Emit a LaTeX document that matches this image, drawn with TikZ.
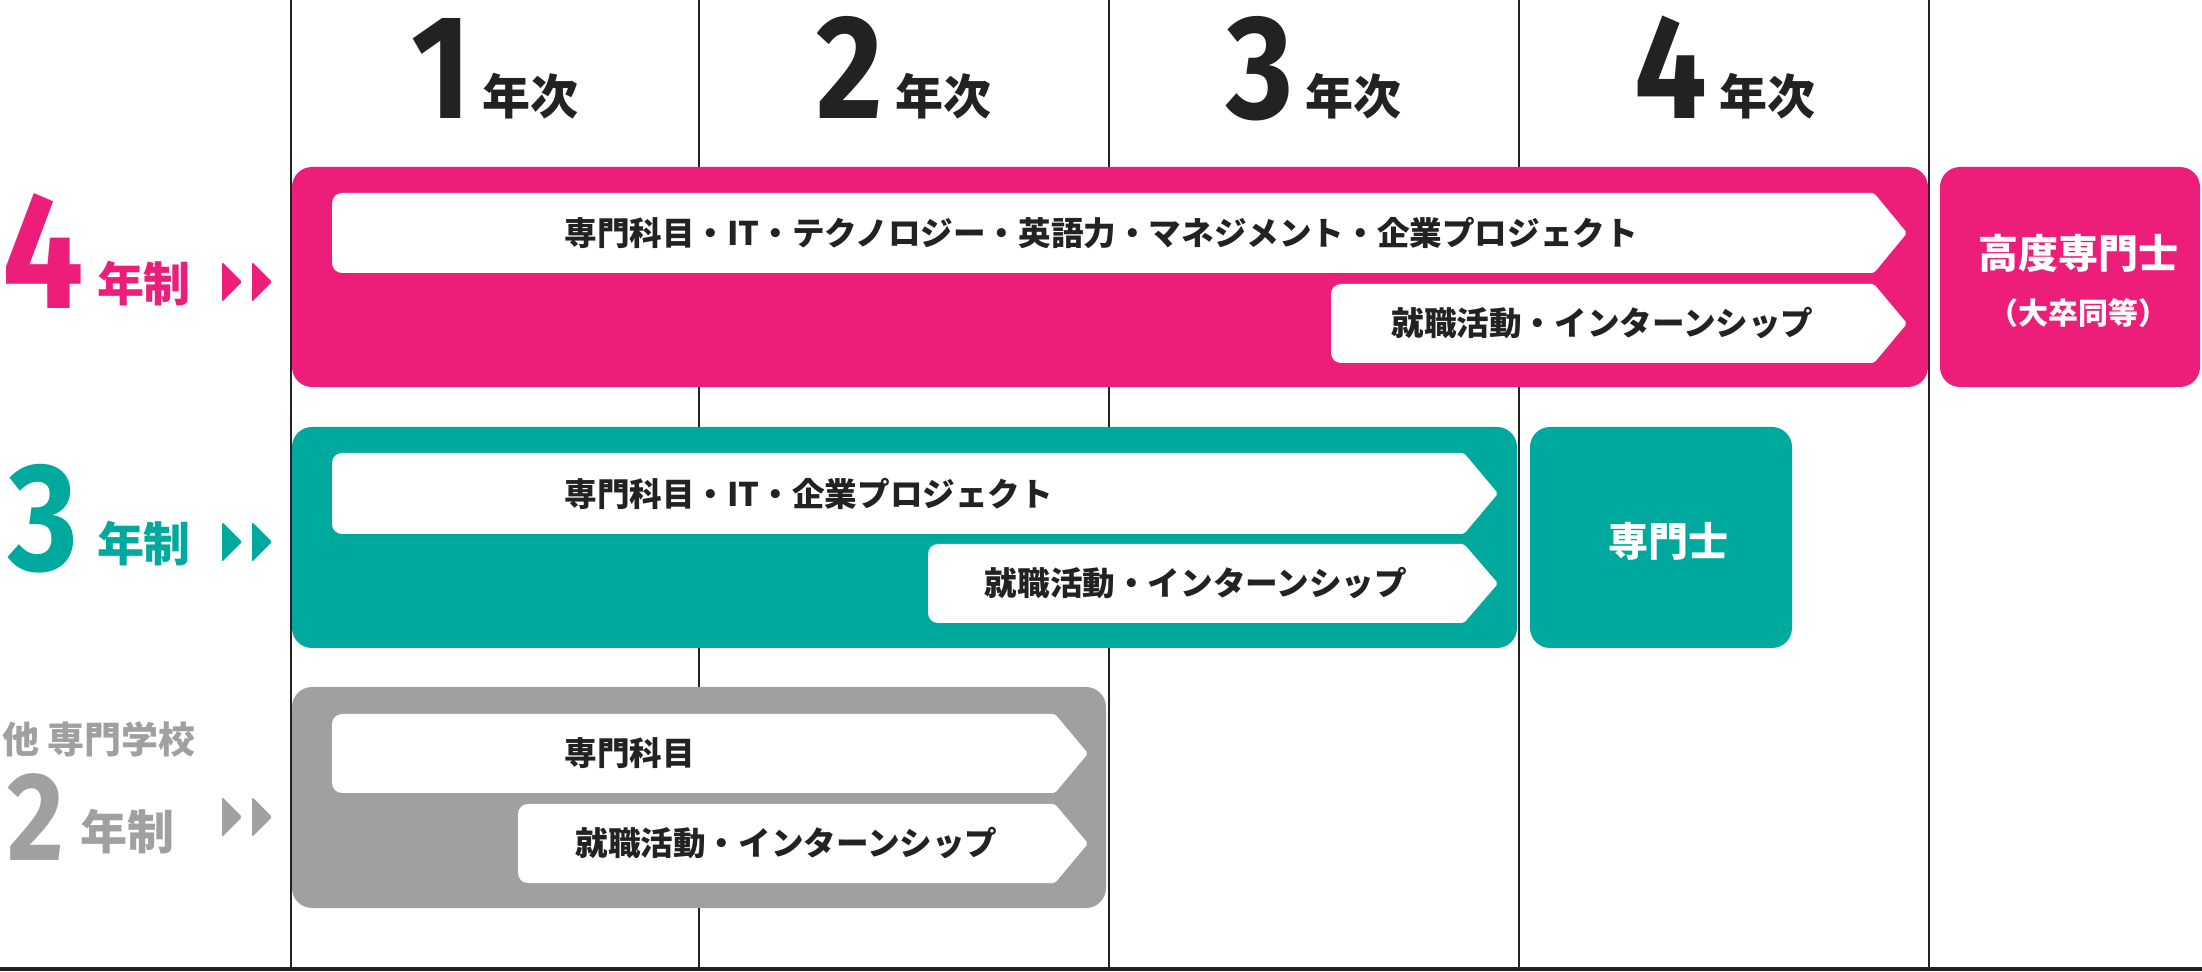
\documentclass[tikz,border=0pt]{standalone}
\usepackage{fontspec}
\setmainfont{Noto Sans CJK JP}
\newfontfamily\jp{Noto Sans CJK JP}
\newfontfamily\digitfont{Fira Sans}[FakeStretch=0.87]
\definecolor{pinkc}{HTML}{ED1E79}
\definecolor{tealc}{HTML}{00A99D}
\definecolor{grayc}{HTML}{A0A0A0}
\definecolor{inkc}{HTML}{222222}
\newcommand\warrow[6]{%
  \fill[white] ({#6},{(#3+#4)/2}) [rounded corners=1pt] -- ({#5},{#3}) [rounded corners=5pt] -- ({#2},{#3}) -- ({#2},{#4}) [rounded corners=1pt] -- ({#5},{#4}) -- cycle;
  \coordinate (#1) at ({(#2+#5)/2},{(#3+#4)/2});}
\newcommand\tri[3]{%
  \fill[#3, rounded corners=1pt] ({#1},{#2-20}) -- ({#1+20},{#2}) -- ({#1},{#2+20}) -- cycle;}
\newcommand\hdr[1]{{\digitfont\bfseries\fontsize{74pt}{74pt}\selectfont #1}\hspace{6pt}\raisebox{2pt}{\jp\bfseries\fontsize{24pt}{24pt}\selectfont 年次}}
\begin{document}
\begin{tikzpicture}[x=0.5pt,y=-0.5pt,
  box/.style={rounded corners=10pt},
  lbl/.style={inner sep=0pt, text=inkc, font={\jp\bfseries\fontsize{16.3pt}{19pt}\selectfont}},
  cert/.style={inner sep=0pt, text=white, font={\jp\bfseries\fontsize{20pt}{22pt}\selectfont}},
  big/.style={inner sep=0pt, anchor=base},
  nen/.style={inner sep=0pt, font={\jp\bfseries\fontsize{23.5pt}{24pt}\selectfont}},
  head/.style={inner sep=0pt, anchor=base, text=inkc}]
\useasboundingbox (0,0) rectangle (2202,972);
% grid lines
\foreach \x in {290.5,699,1108.5,1519,1929} \draw[inkc,line width=1pt] (\x,0) -- (\x,968);
\draw[inkc,line width=2pt] (0,969) -- (2202,969);
% header
\node[head] (y1) at (495,119) {\hdr{1}};
\node[head] (y2) at (904,119) {\hdr{2}};
\node[head] (y3) at (1314,119) {\hdr{3}};
\node[head] (y4) at (1725,119) {\hdr{4}};
% 4-year row
\fill[pinkc, box] (292,167) rectangle (1928,387);
\fill[pinkc, box] (1940,167) rectangle (2200,387);
\warrow{p1}{332}{193}{273}{1874}{1907}
\warrow{p2}{1331}{284}{363}{1874}{1907}
\node[lbl, anchor=west] (p1t) at (564,233) {専門科目・IT・テクノロジー・英語力・マネジメント・企業プロジェクト};
\node[lbl] (p2t) at (p2) {就職活動・インターンシップ};
\node[cert] (c4a) at (2078,253.5) {高度専門士};
\node[cert, font={\jp\bfseries\fontsize{15pt}{17pt}\selectfont}] (c4b) at (2078,313.5) {（大卒同等）};
\node[big, text=pinkc, font={\digitfont\bfseries\fontsize{83pt}{83pt}\selectfont}] (n4) at (43.5,309) {4};
\node[nen, text=pinkc] (s4) at (144,283.5) {年制};
\tri{222}{282}{pinkc}
\tri{252}{282}{pinkc}
% 3-year row
\fill[tealc, box] (292,427) rectangle (1517,648);
\fill[tealc, box] (1530,427) rectangle (1792,648);
\warrow{t1}{332}{453}{534}{1464}{1498}
\warrow{t2}{928}{544}{623}{1464}{1498}
\node[lbl, anchor=west] (t1t) at (564,493.5) {専門科目・IT・企業プロジェクト};
\node[lbl] (t2t) at (t2) {就職活動・インターンシップ};
\node[cert] (c3) at (1668,541) {専門士};
\node[big, text=tealc, font={\digitfont\bfseries\fontsize{77pt}{77pt}\selectfont}] (n3) at (43,571) {3};
\node[nen, text=tealc] (s3) at (144,544) {年制};
\tri{222}{542}{tealc}
\tri{252}{542}{tealc}
% 2-year row
\fill[grayc, box] (292,687) rectangle (1106,908);
\warrow{g1}{332}{714}{793}{1055}{1088}
\warrow{g2}{518}{804}{883}{1055}{1088}
\node[lbl, anchor=west] (g1t) at (564,753.5) {専門科目};
\node[lbl] (g2t) at (g2) {就職活動・インターンシップ};
\node[inner sep=0pt, anchor=west, text=grayc, font={\jp\bfseries\fontsize{18.5pt}{20pt}\selectfont}] (o2) at (2,739) {他 専門学校};
\node[big, text=grayc, font={\digitfont\bfseries\fontsize{63pt}{63pt}\selectfont}] (n2) at (35.5,860) {2};
\node[nen, text=grayc] (s2) at (127,831.5) {年制};
\tri{222}{817}{grayc}
\tri{252}{817}{grayc}
\end{tikzpicture}
\end{document}
